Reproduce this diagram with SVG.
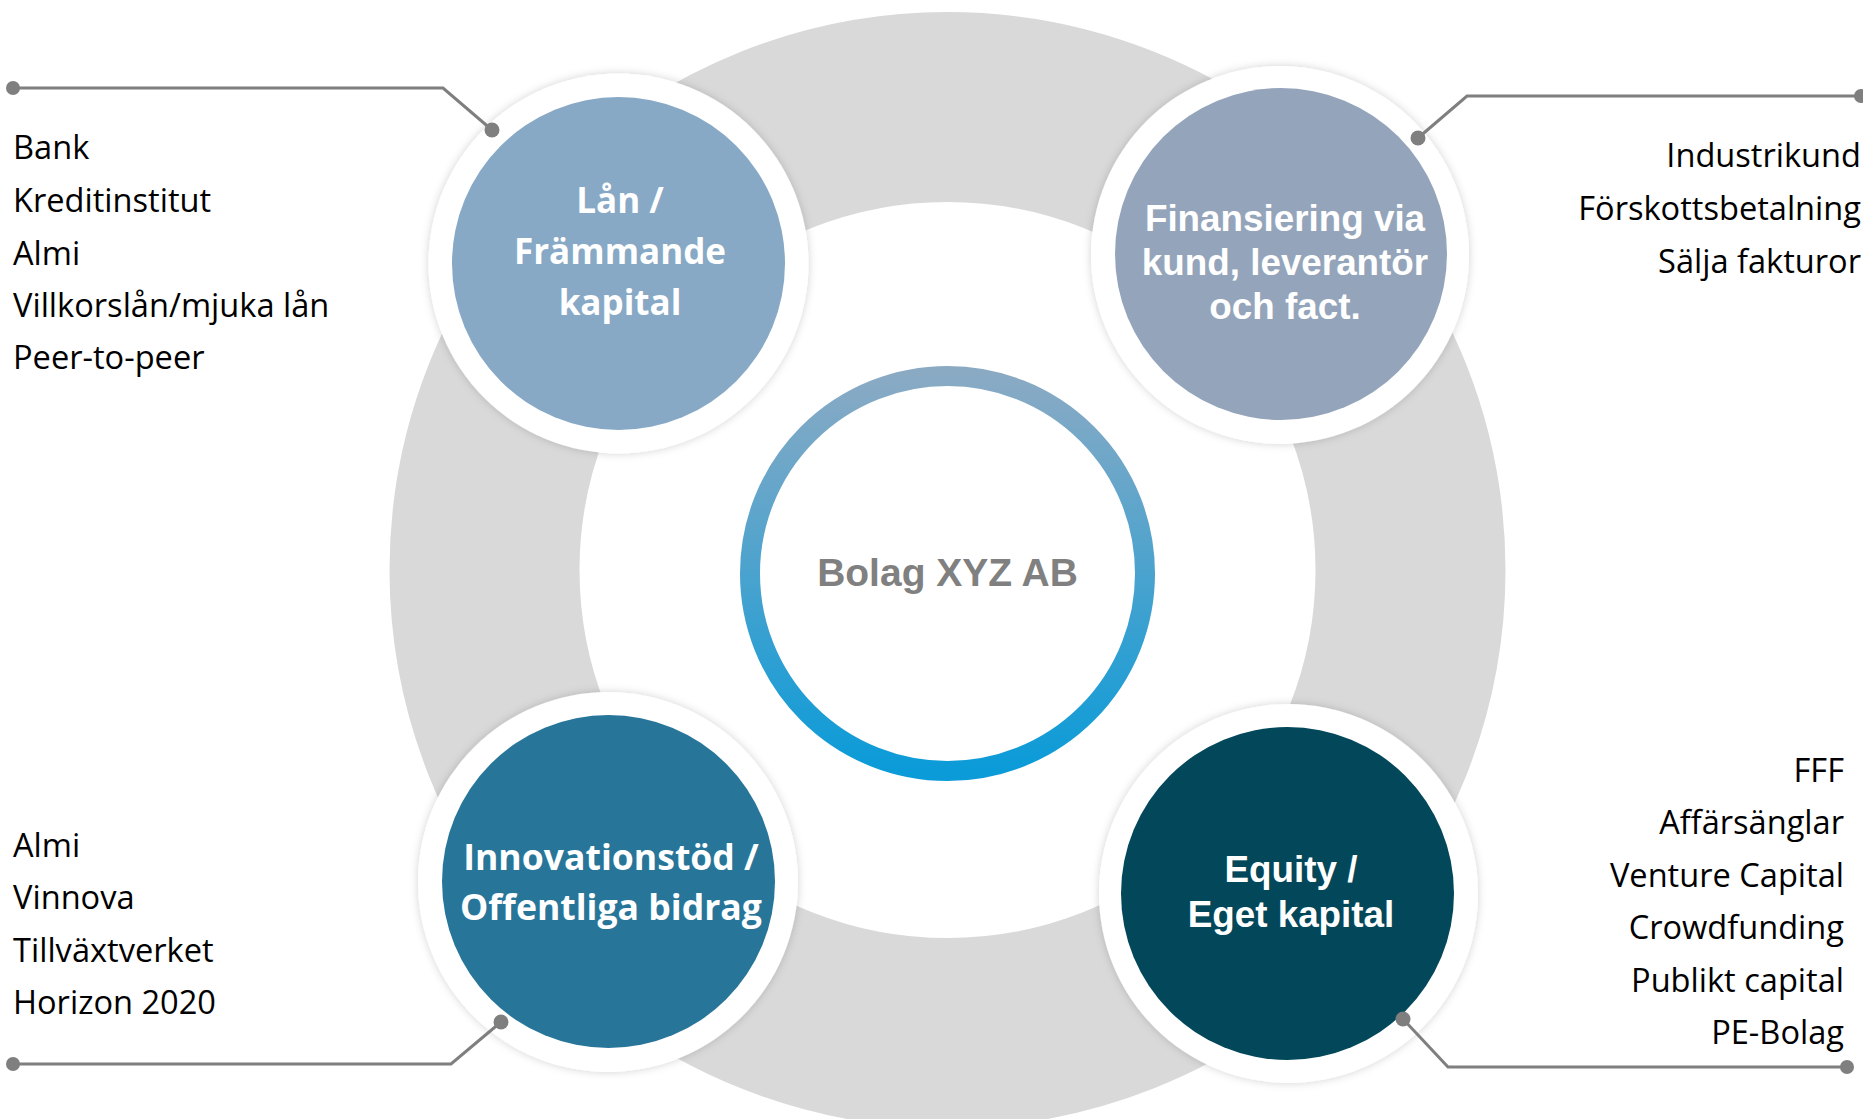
<svg xmlns="http://www.w3.org/2000/svg" width="1863" height="1119" viewBox="0 0 1863 1119">
<defs>
<linearGradient id="ringGrad" x1="0" y1="0" x2="0" y2="1">
<stop offset="0" stop-color="#8AAAC4"/>
<stop offset="1" stop-color="#0A9BD8"/>
</linearGradient>
<filter id="halo" x="-20%" y="-20%" width="140%" height="140%">
<feDropShadow dx="0" dy="0" stdDeviation="4" flood-color="#000" flood-opacity="0.18"/>
</filter>
</defs>
<style>
.halo{fill:#fff;filter:url(#halo)}
.lbl{font-family:"Open Sans","Liberation Sans",sans-serif;font-weight:700;font-size:35px;fill:#fff;text-anchor:middle}
.lbla{font-family:"Liberation Sans",Arial,sans-serif;font-weight:700;font-size:36.8px;fill:#fff;text-anchor:middle}
.list{font-family:"Open Sans","Liberation Sans",sans-serif;font-size:32.6px;fill:#000}
.r{text-anchor:end}
.conn{fill:none;stroke:#7F7F7F;stroke-width:3}
.dot{fill:#7F7F7F}
</style>
<rect width="1863" height="1119" fill="#fff"/>
<g id="ring">
<circle cx="947.5" cy="570" r="463" fill="none" stroke="#D9D9D9" stroke-width="190"/>
</g>
<g id="center">
<circle cx="947.5" cy="573.5" r="197.5" fill="#fff" stroke="url(#ringGrad)" stroke-width="20"/>
<text x="947.5" y="586" font-family="Liberation Sans,Arial,sans-serif" font-weight="700" font-size="39" fill="#808080" text-anchor="middle">Bolag XYZ AB</text>
</g>
<g id="node-lan">
<circle class="halo" cx="618.5" cy="263.5" r="190"/>
<circle cx="618.5" cy="263.5" r="166.5" fill="#87A9C6"/>
<text class="lbl" x="620" y="213">Lån /</text>
<text class="lbl" x="620" y="264">Främmande</text>
<text class="lbl" x="620" y="315">kapital</text>
</g>
<g id="node-finansiering">
<circle class="halo" cx="1280" cy="255" r="189"/>
<circle cx="1281" cy="254" r="166" fill="#94A5BB"/>
<text class="lbla" x="1285" y="231">Finansiering via</text>
<text class="lbla" x="1285" y="275">kund, leverantör</text>
<text class="lbla" x="1285" y="319">och fact.</text>
</g>
<g id="node-innovation">
<circle class="halo" cx="608" cy="882" r="190"/>
<circle cx="608.5" cy="881.5" r="166.5" fill="#27769A"/>
<text class="lbl" x="611" y="870" style="font-size:35.6px">Innovationstöd /</text>
<text class="lbl" x="611" y="920" style="font-size:35.6px">Offentliga bidrag</text>
</g>
<g id="node-equity">
<circle class="halo" cx="1288.5" cy="893.5" r="189.5"/>
<circle cx="1287.5" cy="893.5" r="166.5" fill="#03475A"/>
<text class="lbla" x="1291" y="882">Equity /</text>
<text class="lbla" x="1291" y="927">Eget kapital</text>
</g>
<g id="list-lan">
<text class="list" x="13" y="159">Bank</text>
<text class="list" x="13" y="212">Kreditinstitut</text>
<text class="list" x="13" y="265">Almi</text>
<text class="list" x="13" y="317">Villkorslån/mjuka lån</text>
<text class="list" x="13" y="369">Peer-to-peer</text>
</g>
<g id="list-finansiering">
<text class="list r" x="1861" y="167">Industrikund</text>
<text class="list r" x="1861" y="220">Förskottsbetalning</text>
<text class="list r" x="1861" y="273">Sälja fakturor</text>
</g>
<g id="list-innovation">
<text class="list" x="13" y="857">Almi</text>
<text class="list" x="13" y="909">Vinnova</text>
<text class="list" x="13" y="962">Tillväxtverket</text>
<text class="list" x="13" y="1014">Horizon 2020</text>
</g>
<g id="list-equity">
<text class="list r" x="1844" y="782">FFF</text>
<text class="list r" x="1844" y="834">Affärsänglar</text>
<text class="list r" x="1844" y="887">Venture Capital</text>
<text class="list r" x="1844" y="939">Crowdfunding</text>
<text class="list r" x="1844" y="992">Publikt capital</text>
<text class="list r" x="1844" y="1044">PE-Bolag</text>
</g>
<g id="connectors">
<polyline class="conn" points="13,88 443,88 492,130"/>
<circle class="dot" cx="13" cy="88" r="7"/>
<circle class="dot" cx="492" cy="130" r="7.5"/>
<polyline class="conn" points="1418,138 1467,96 1861,96"/>
<circle class="dot" cx="1418" cy="138" r="7.5"/>
<circle class="dot" cx="1861" cy="96" r="7"/>
<polyline class="conn" points="13,1064 451,1064 501,1022"/>
<circle class="dot" cx="13" cy="1064" r="7"/>
<circle class="dot" cx="501" cy="1022" r="7.5"/>
<polyline class="conn" points="1403,1019 1448,1067 1847,1067"/>
<circle class="dot" cx="1403" cy="1019" r="7.5"/>
<circle class="dot" cx="1847" cy="1067" r="7"/>
</g>
</svg>
